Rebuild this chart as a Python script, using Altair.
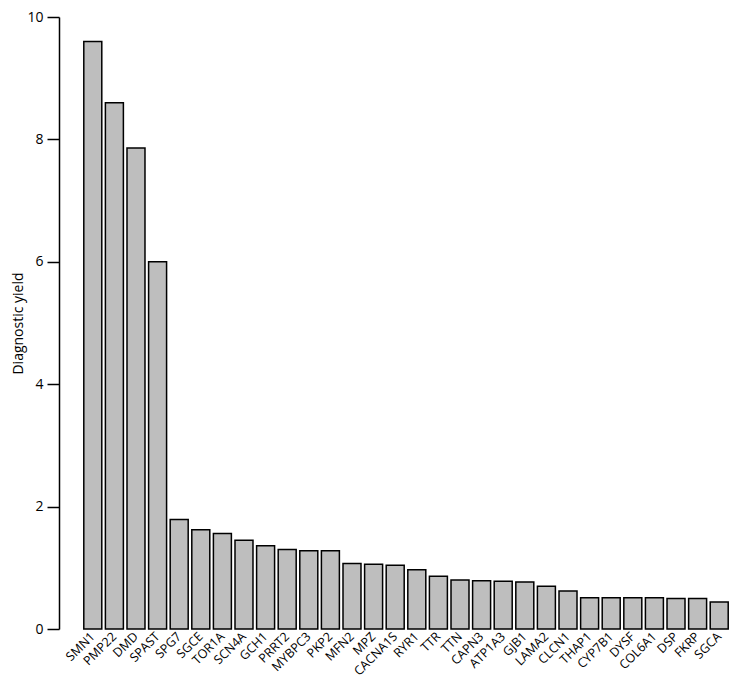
import altair as alt
import pandas as pd

genes = ["SMN1", "PMP22", "DMD", "SPAST", "SPG7", "SGCE", "TOR1A", "SCN4A", "GCH1", "PRRT2",
         "MYBPC3", "PKP2", "MFN2", "MPZ", "CACNA1S", "RYR1", "TTR", "TTN", "CAPN3", "ATP1A3",
         "GJB1", "LAMA2", "CLCN1", "THAP1", "CYP7B1", "DYSF", "COL6A1", "DSP", "FKRP", "SGCA"]
yields = [9.60, 8.60, 7.86, 6.00, 1.79, 1.62, 1.56, 1.45, 1.36, 1.30,
          1.28, 1.28, 1.07, 1.06, 1.04, 0.97, 0.86, 0.80, 0.79, 0.78,
          0.77, 0.70, 0.62, 0.51, 0.51, 0.51, 0.51, 0.50, 0.50, 0.44]
y_ticks = [0, 2, 4, 6, 8, 10]

df = pd.DataFrame({"gene": genes, "yield": yields})

FONT = "Open Sans"

chart = alt.Chart(df).mark_bar(
    fill="#BEBEBE", stroke="black", strokeWidth=1.5
).encode(
    x=alt.X("gene:N", sort=genes,
            scale=alt.Scale(paddingInner=0.167, paddingOuter=0.083),
            axis=alt.Axis(title=None, labelAngle=-45, labelAlign="right",
                          labelBaseline="middle", labelPadding=5, ticks=False,
                          domain=False, labelFont=FONT, labelFontSize=12.5,
                          labelColor="black")),
    y=alt.Y("yield:Q", scale=alt.Scale(domain=[0, 10], nice=False, zero=True),
            axis=alt.Axis(title="Diagnostic yield", values=y_ticks, grid=False,
                          offset=23, tickSize=12, tickWidth=1.5, tickColor="black",
                          domainColor="black", domainWidth=1.5, labelPadding=4,
                          labelFont=FONT, labelFontSize=14, labelColor="black",
                          titleFont=FONT, titleFontSize=14, titleFontWeight="normal",
                          titleColor="black", titlePadding=1))
).properties(
    width=648, height=612,
    autosize=alt.AutoSizeParams(type="none"),
    padding={"left": 74, "top": 9, "right": 0, "bottom": 49}
).configure_view(stroke=None)

chart.save("out.html", embed_options={"renderer": "svg", "actions": False})
